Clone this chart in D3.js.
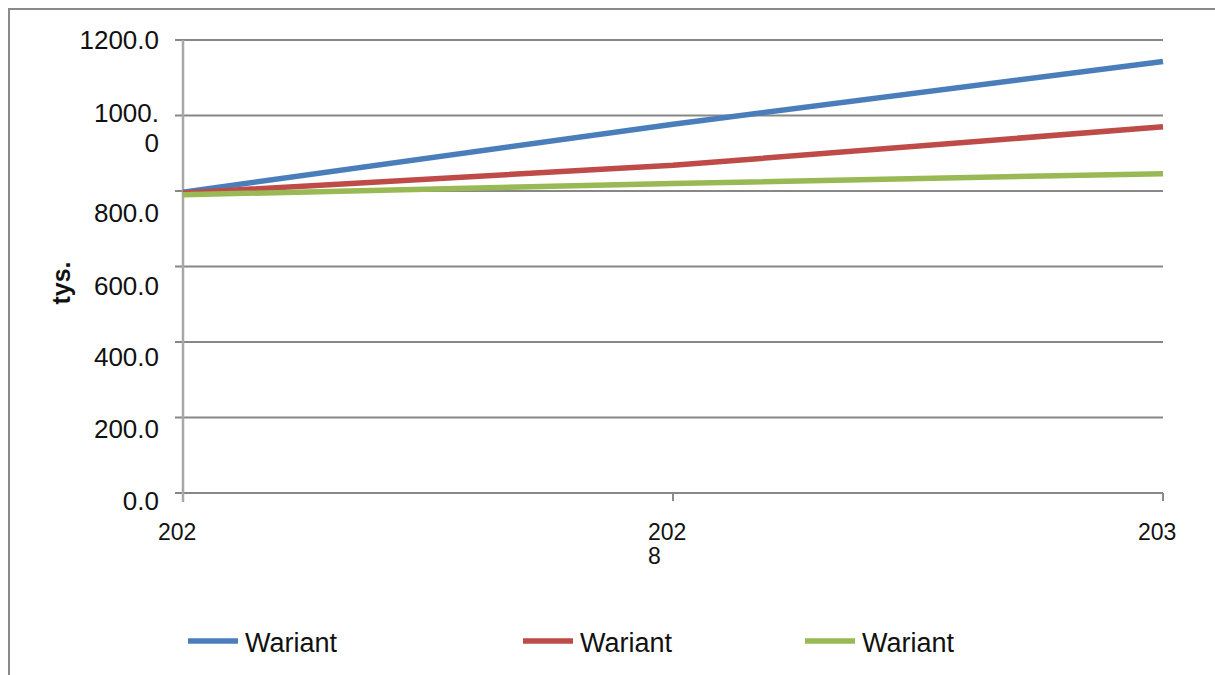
<!DOCTYPE html>
<html>
<head>
<meta charset="utf-8">
<script src="https://cdn.jsdelivr.net/npm/d3@7"></script>
<style>
  html, body { margin: 0; padding: 0; background: #fff; }
  svg { display: block; }
  text { font-family: "Liberation Sans", Arial, sans-serif; fill: #111; }
</style>
</head>
<body>
<svg id="chart" width="1215" height="675"></svg>
<script>
// ---- data ----
const categories = ["c1", "c2", "c3"];
const xTickLabels = [["202"], ["202", "8"], ["203"]];
const seriesNames = ["Wariant", "Wariant", "Wariant"];
const seriesBlue  = [797, 977, 1143];
const seriesRed   = [795, 868, 970];
const seriesGreen = [790, 820, 846];
const yTicks = [0, 200, 400, 600, 800, 1000, 1200];
const yTickLabels = [["0.0"], ["200.0"], ["400.0"], ["600.0"], ["800.0"], ["1000.", "0"], ["1200.0"]];
const yAxisTitle = "tys.";

// ---- style / layout ----
const colors = ["#4a7ebb", "#be4b48", "#98b954"];
const labelShift = [8, 11, 15, 19, 22, 12.5, 0]; // vertical shift of y label block centre
const legendX = [188, 523, 805];

const svg = d3.select("#chart");
svg.append("rect").attr("x", 0).attr("y", 0).attr("width", 1215).attr("height", 675).attr("fill", "#fff");
svg.append("rect").attr("x", 9).attr("y", 9).attr("width", 1230).attr("height", 700)
  .attr("fill", "none").attr("stroke", "#8a8a8a").attr("stroke-width", 2);

const x = d3.scalePoint().domain(categories).range([183, 1163]);
const y = d3.scaleLinear().domain([0, 1200]).range([493, 40]);

// gridlines (incl. zero line)
svg.append("g").selectAll("line").data(yTicks).join("line")
  .attr("x1", 175).attr("x2", x.range()[1])
  .attr("y1", d => y(d)).attr("y2", d => y(d))
  .attr("stroke", "#878787").attr("stroke-width", 2);

// y axis line
svg.append("line").attr("x1", 183).attr("x2", 183).attr("y1", y(1200)).attr("y2", y(0) + 9)
  .attr("stroke", "#a8a8a8").attr("stroke-width", 2.5);

// x ticks
svg.append("g").selectAll("line").data(categories.slice(1)).join("line")
  .attr("x1", d => x(d)).attr("x2", d => x(d))
  .attr("y1", y(0)).attr("y2", y(0) + 8)
  .attr("stroke", "#8a8a8a").attr("stroke-width", 2);

// y labels
const yFont = 26;
const yl = svg.append("g").selectAll("text").data(yTicks).join("text")
  .attr("text-anchor", "end")
  .style("font-size", yFont + "px");
yl.each(function(d, i) {
  const lines = yTickLabels[i];
  const lh = 30;
  const centre = y(d) + labelShift[i];
  const top = centre - (lines.length - 1) * lh / 2;
  d3.select(this).selectAll("tspan").data(lines).join("tspan")
    .attr("x", 159)
    .attr("y", (t, j) => top + j * lh + yFont * 0.36)
    .text(t => t);
});

// x labels
const xFont = 23;
svg.append("g").selectAll("text").data(categories).join("text")
  .style("font-size", xFont + "px")
  .each(function(d, i) {
    d3.select(this).selectAll("tspan").data(xTickLabels[i]).join("tspan")
      .attr("x", x(d) - 25)
      .attr("y", (t, j) => 540 + j * 23.5)
      .text(t => t);
  });

// y axis title
svg.append("text")
  .attr("transform", `translate(${70},${283}) rotate(-90)`)
  .attr("text-anchor", "middle")
  .style("font-size", "25px").style("font-weight", "bold")
  .text(yAxisTitle);

// lines
const allSeries = [seriesBlue, seriesRed, seriesGreen];
const line = d3.line().x((d, i) => x(categories[i])).y(d => y(d));
// draw green first? Reference shows green on top at start
[0, 1, 2].forEach(k => {
  svg.append("path").datum(allSeries[k])
    .attr("d", line)
    .attr("fill", "none")
    .attr("stroke", colors[k])
    .attr("stroke-width", 5.5);
});

// legend
const lg = svg.append("g");
seriesNames.forEach((name, k) => {
  lg.append("line").attr("x1", legendX[k]).attr("x2", legendX[k] + 50)
    .attr("y1", 641).attr("y2", 641)
    .attr("stroke", colors[k]).attr("stroke-width", 5.5);
  lg.append("text").attr("x", legendX[k] + 57).attr("y", 652)
    .style("font-size", "27px").text(name);
});
</script>
</body>
</html>
